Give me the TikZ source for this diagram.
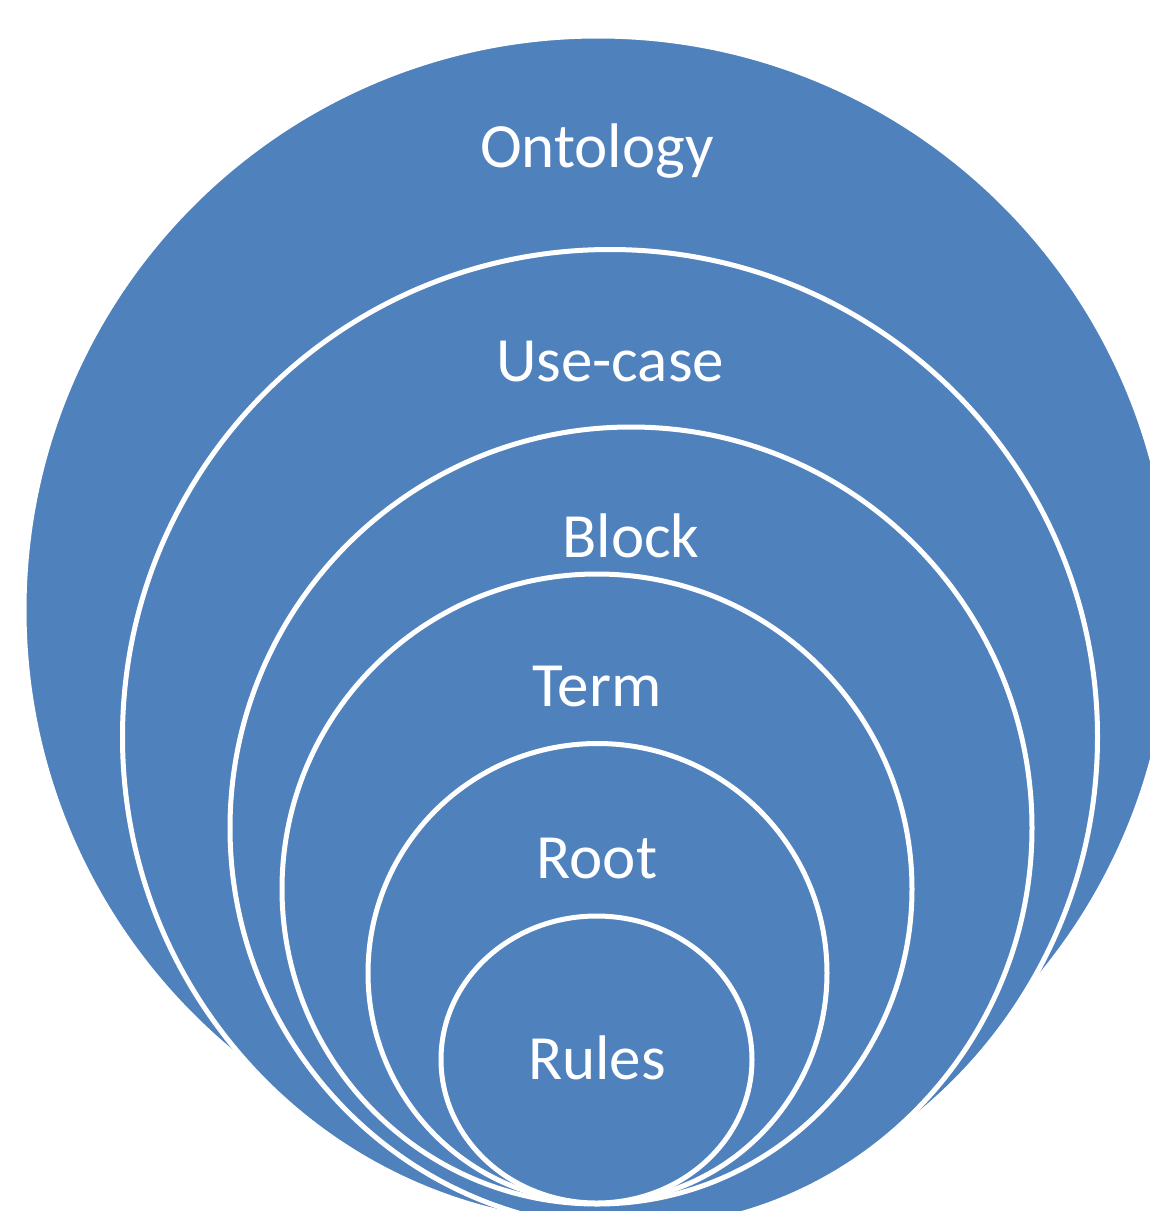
\documentclass[tikz,border=0pt]{standalone}
\usepackage{fontspec}
\setmainfont{Carlito}
\usepackage{xcolor}
\definecolor{ring-blue}{RGB}{79,129,189}
\usetikzlibrary{positioning}

\begin{document}
\begin{tikzpicture}[x=0.5pt,y=-0.5pt,
    ring/.style={fill=ring-blue, draw=white, line width=2.5pt},
    lbl/.style={text=white, anchor=base, inner sep=0pt, font=\fontsize{31.5}{36}\selectfont}]
    \useasboundingbox (0,0) rectangle (1150,1211);
    \clip (0,0) rectangle (1150,1211);
    % centres of the rings, outermost first
    \coordinate (c0) at (598,610);
    \coordinate (c1) at (610,737);
    \coordinate (c2) at (631,828);
    \coordinate (c3) at (597,889);
    \coordinate (c4) at (597.5,973);
    \coordinate (c5) at (596.5,1059.5);
    \filldraw[ring] (c0) circle [radius=574];
    \filldraw[ring] (c1) circle [radius=487.5];
    \filldraw[ring] (c2) circle [radius=401];
    \filldraw[ring] (c3) circle [radius=315];
    \filldraw[ring] (c4) circle [radius=229.5];
    \filldraw[ring] (c5) ellipse [x radius=155.5, y radius=143.5];
    % labels
    \node[lbl] (ontology) at (597,167) {Ontology};
    \node[lbl] (usecase) at (610,381) {Use-case};
    \node[lbl] (block) at (631,557) {Block};
    \node[lbl] (term) at (597,706) {Term};
    \node[lbl] (root) at (597,878) {Root};
    \node[lbl] (rules) at (597,1079) {Rules};
\end{tikzpicture}
\end{document}
